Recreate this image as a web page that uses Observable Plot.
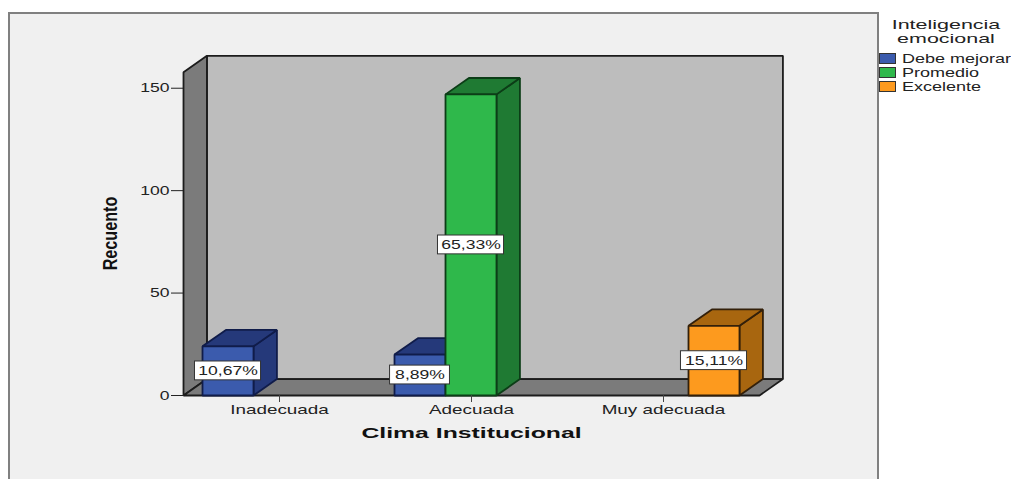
<!DOCTYPE html>
<html lang="es">
<head>
<meta charset="utf-8">
<script src="https://cdn.jsdelivr.net/npm/d3@7"></script>
<script src="https://cdn.jsdelivr.net/npm/@observablehq/plot@0.6"></script>
<style>
  html, body { margin: 0; padding: 0; background: #fff; overflow: hidden; }
  #page { position: relative; width: 1011px; height: 479px; font-family: "Liberation Sans", sans-serif; color: #222; }
  #panel { position: absolute; left: 8px; top: 12px; width: 871px; height: 480px; background: #f0f0f0; border: 2px solid #808080; box-sizing: border-box; }
  #chart { position: absolute; left: 0; top: 0; }
  #chart svg { background: transparent; display: block; }
  #legend { position: absolute; left: 0; top: 0; width: 1011px; height: 100px; }
  .legend-title { position: absolute; left: 882px; width: 128px; text-align: center; font-size: 13px; line-height: 14px; transform: scaleX(1.65); transform-origin: center; white-space: nowrap; }
  .legend-swatch { position: absolute; left: 879px; width: 15px; height: 9px; border: 1px solid #333; }
  .legend-label { position: absolute; left: 902px; font-size: 12px; line-height: 14px; transform: scaleX(1.5); transform-origin: left center; white-space: nowrap; }
</style>
</head>
<body>
<div id="page">
  <div id="panel"></div>
  <div id="chart"></div>
  <div id="legend"></div>
</div>
<script>
// Counts per climate category and emotional-intelligence level
const categories = ["Inadecuada", "Adecuada", "Muy adecuada"];
const levels = ["Debe mejorar", "Promedio", "Excelente"];
const debeMejorar = [24, 20, 0];
const promedio = [0, 147, 0];
const excelente = [0, 0, 34];
const total = 225;

const frontColors = ["#3b5bad", "#2fb84b", "#fd9a1e"];
const darkColors = ["#25397a", "#1f7a33", "#a8660f"];
const edgeColors = ["#101c4a", "#0c3d17", "#33200a"];

const wallBack = "#bdbdbd";
const wallSide = "#7b7b7b";
const wallEdge = "#1c1c1c";

// Extrusion of the pseudo-3D box and bar layout, in scale units
const depthX = 0.122;
const depthY = 8;
const groupInset = 0.099;
const barWidth = 0.2656;
const yMax = 165;
const wallTop = 157.8;

const rows = [debeMejorar, promedio, excelente].flatMap((series, s) =>
  series.map((count, c) => ({count, s, c})).filter(d => d.count > 0)
);
rows.forEach(d => {
  d.x0 = d.c + groupInset + d.s * barWidth;
  d.x1 = d.x0 + barWidth;
  d.xm = (d.x0 + d.x1) / 2;
});

// Builds one closed polygon as point records sharing an id
let faceId = 0;
const polygon = (pts, fill, stroke) => {
  const id = faceId++;
  return pts.map(([x, y]) => ({x, y, id, fill, stroke}));
};

const wallFaces = [
  polygon([[depthX, depthY], [3 + depthX, depthY], [3 + depthX, wallTop + depthY], [depthX, wallTop + depthY]], wallBack, wallEdge),
  polygon([[0, 0], [depthX, depthY], [depthX, wallTop + depthY], [0, wallTop]], wallSide, wallEdge),
  polygon([[0, 0], [3, 0], [3 + depthX, depthY], [depthX, depthY]], wallSide, wallEdge)
].flat();

const barFaces = rows.flatMap(d => [
  polygon([[d.x1, 0], [d.x1 + depthX, depthY], [d.x1 + depthX, d.count + depthY], [d.x1, d.count]], darkColors[d.s], edgeColors[d.s]),
  polygon([[d.x0, d.count], [d.x1, d.count], [d.x1 + depthX, d.count + depthY], [d.x0 + depthX, d.count + depthY]], darkColors[d.s], edgeColors[d.s]),
  polygon([[d.x0, 0], [d.x1, 0], [d.x1, d.count], [d.x0, d.count]], frontColors[d.s], edgeColors[d.s])
].flat());

const percentLabel = d => (d.count / total * 100).toFixed(2).replace(".", ",") + "%";
// Label boxes grow with the number of characters they hold
const labelHalfX = d => 0.076 + 0.016 * percentLabel(d).length;
const labelHalfY = 4.6;

const faceMark = data => Plot.line(data, {
  x: "x", y: "y", z: "id",
  fill: d => d.fill, stroke: d => d.stroke,
  strokeWidth: 1.8, curve: "linear-closed", strokeLinejoin: "miter"
});

const plot = Plot.plot({
  width: 1011,
  height: 479,
  marginLeft: 183,
  marginRight: 252,
  marginTop: 57,
  marginBottom: 84,
  style: {background: "transparent", fontFamily: "'Liberation Sans', sans-serif"},
  color: {type: "identity"},
  x: {domain: [0, 3], axis: null},
  y: {domain: [0, yMax], axis: null},
  marks: [
    faceMark(wallFaces),
    faceMark(barFaces),
    Plot.axisX({
      ticks: [0.5, 1.5, 2.5],
      tickFormat: v => categories[Math.floor(v)],
      tickSize: 7, tickPadding: 2, fontSize: 13, stroke: "#444", fill: "#222", label: null
    }),
    Plot.axisY({
      ticks: [0, 50, 100, 150],
      tickSize: 12, tickPadding: 2, fontSize: 13, stroke: "#222", fill: "#222", label: null
    }),
    Plot.rect(rows, {
      x1: d => d.xm - labelHalfX(d), x2: d => d.xm + labelHalfX(d),
      y1: d => d.count / 2 - labelHalfY, y2: d => d.count / 2 + labelHalfY,
      fill: "#ffffff", stroke: "#333", strokeWidth: 1, inset: 0
    }),
    Plot.text(rows, {
      x: "xm", y: d => d.count / 2, text: percentLabel,
      fontSize: 13, fill: "#222"
    }),
    Plot.text(["Clima Institucional"], {
      frameAnchor: "bottom", lineAnchor: "middle", dy: 38,
      fontSize: 15, fontWeight: "bold", fill: "#111"
    }),
    Plot.text(["Recuento"], {
      frameAnchor: "left", textAnchor: "middle", rotate: -90, dx: -73, dy: 7,
      fontSize: 21, fontWeight: "bold", fill: "#111"
    })
  ]
});
document.getElementById("chart").append(plot);

// The whole figure is set in a horizontally stretched type
d3.select(plot).selectAll("text").each(function () {
  const text = this.textContent;
  if (!text) return;
  const length = this.getComputedTextLength();
  let ratio = 1.45;
  if (text === "Recuento") ratio = 0.77;
  else if (text === "Clima Institucional") ratio = 1.65;
  else if (/^\d+$/.test(text)) ratio = 1.35;
  else if (text.endsWith("%")) ratio = 1.35;
  this.setAttribute("textLength", length * ratio);
  this.setAttribute("lengthAdjust", "spacingAndGlyphs");
});

// Legend block
const legend = document.getElementById("legend");
["Inteligencia", "emocional"].forEach((line, i) => {
  const el = document.createElement("div");
  el.className = "legend-title";
  el.textContent = line;
  el.style.top = (18 + i * 14) + "px";
  legend.append(el);
});
levels.forEach((level, i) => {
  const swatch = document.createElement("div");
  swatch.className = "legend-swatch";
  swatch.style.top = (53 + i * 14) + "px";
  swatch.style.background = frontColors[i];
  legend.append(swatch);
  const label = document.createElement("div");
  label.className = "legend-label";
  label.textContent = level;
  label.style.top = (52 + i * 14) + "px";
  legend.append(label);
});
</script>
</body>
</html>
